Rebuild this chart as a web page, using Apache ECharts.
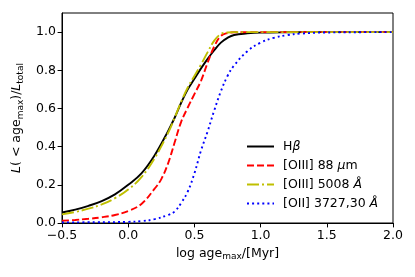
<!DOCTYPE html>
<html>
<head>
<meta charset="utf-8">
<script src="https://cdn.jsdelivr.net/npm/echarts@6/dist/echarts.min.js"></script>
<style>html,body{margin:0;padding:0;background:#fff}#c{width:415px;height:277px}</style>
</head>
<body>
<div id="c"></div>
<script>
const seriesNames = ['Hβ', '[OIII] 88 μm', '[OIII] 5008 Å', '[OII] 3727,30 Å'];
const hbeta = [[-0.5,0.055],[-0.4,0.07],[-0.3,0.09],[-0.2,0.115],[-0.1,0.15],[0.0,0.2],[0.1,0.26],[0.2,0.355],[0.3,0.48],[0.35,0.55],[0.4,0.63],[0.45,0.70],[0.5,0.755],[0.55,0.81],[0.6,0.86],[0.65,0.905],[0.7,0.945],[0.75,0.97],[0.8,0.985],[0.9,0.993],[1.0,0.997],[1.2,0.999],[1.5,1.0],[2.0,1.0]];
const oiii88 = [[-0.5,0.012],[-0.4,0.016],[-0.3,0.022],[-0.2,0.03],[-0.1,0.042],[0.0,0.063],[0.1,0.1],[0.2,0.18],[0.25,0.23],[0.3,0.31],[0.35,0.42],[0.4,0.53],[0.45,0.605],[0.5,0.675],[0.55,0.745],[0.6,0.84],[0.65,0.925],[0.7,0.98],[0.75,0.995],[0.8,0.999],[1.0,1.0],[2.0,1.0]];
const oiii5008 = [[-0.5,0.045],[-0.4,0.058],[-0.3,0.075],[-0.2,0.097],[-0.1,0.13],[0.0,0.175],[0.1,0.24],[0.2,0.34],[0.3,0.47],[0.35,0.55],[0.4,0.635],[0.45,0.71],[0.5,0.77],[0.55,0.83],[0.6,0.895],[0.65,0.955],[0.7,0.99],[0.75,0.998],[0.8,1.0],[2.0,1.0]];
const oii3727 = [[-0.5,0.003],[-0.25,0.004],[0.0,0.006],[0.1,0.01],[0.2,0.02],[0.3,0.042],[0.35,0.06],[0.4,0.105],[0.45,0.165],[0.5,0.26],[0.55,0.38],[0.6,0.48],[0.65,0.59],[0.7,0.69],[0.75,0.77],[0.8,0.825],[0.9,0.9],[1.0,0.945],[1.1,0.97],[1.2,0.984],[1.3,0.992],[1.5,0.998],[2.0,1.0]];
const xTicks = [-0.5, 0.0, 0.5, 1.0, 1.5, 2.0];
const yTicks = [0.0, 0.2, 0.4, 0.6, 0.8, 1.0];

const FONT = 'DejaVu Sans';
const FS = 12.5;
const fmt = v => (v < 0 ? '\u2212' : '') + Math.abs(v).toFixed(1);
const legendRich = {
  'Hβ': '{n|H}{i|β}',
  '[OIII] 88 μm': '{n|[OIII] 88 }{i|μ}{n|m}',
  '[OIII] 5008 Å': '{n|[OIII] 5008 }{i|Å}',
  '[OII] 3727,30 Å': '{n|[OII] 3727,30 }{i|Å}'
};
const chart = echarts.init(document.getElementById('c'), null, {renderer: 'canvas'});
const mk = (name, data, color, type) => ({
  name, type: 'line', data, showSymbol: false, symbol: 'none',
  smooth: 0.4,
  lineStyle: {color, width: 1.9, type, cap: 'butt'},
  itemStyle: {color}
});
chart.setOption({
  animation: false,
  backgroundColor: '#fff',
  textStyle: {fontFamily: FONT},
  grid: {left: 62, right: 22, top: 13, bottom: 54, show: true, borderColor: '#000', borderWidth: 1, backgroundColor: 'transparent'},
  xAxis: {
    type: 'value', min: -0.5, max: 2.0, interval: 0.5,
    axisLine: {show: true, onZero: false, lineStyle: {color: '#000', width: 1}},
    axisTick: {show: true, inside: false, length: 4.4, lineStyle: {color: '#000', width: 1}, customValues: xTicks},
    axisLabel: {color: '#000', fontSize: FS, fontFamily: FONT, margin: 6, formatter: fmt, customValues: xTicks},
    splitLine: {show: false},
    name: '{n|log age}{s|max}{n|/[Myr]}', nameLocation: 'middle', nameGap: 22,
    nameTextStyle: {rich: {n: {fontSize: FS, fontFamily: FONT, color: '#000', lineHeight: 16}, s: {fontSize: 9, fontFamily: FONT, color: '#000', lineHeight: 10, verticalAlign: 'bottom'}}}
  },
  yAxis: {
    type: 'value', min: 0, max: 1.1, interval: 0.2,
    axisLine: {show: true, onZero: false, lineStyle: {color: '#000', width: 1}},
    axisTick: {show: true, inside: false, length: 4.4, lineStyle: {color: '#000', width: 1}, customValues: yTicks},
    axisLabel: {color: '#000', fontSize: FS, fontFamily: FONT, margin: 6, formatter: fmt, customValues: yTicks},
    splitLine: {show: false},
    name: '{i|L}{n|( < age}{s|max}{n|)/}{i|L}{s|total}', nameLocation: 'middle', nameGap: 34, nameRotate: 90,
    nameTextStyle: {rich: {
      n: {fontSize: FS, fontFamily: FONT, color: '#000', lineHeight: 16},
      i: {fontSize: FS, fontFamily: FONT, fontStyle: 'italic', color: '#000', lineHeight: 16},
      s: {fontSize: 9, fontFamily: FONT, color: '#000', lineHeight: 10, verticalAlign: 'bottom'}
    }}
  },
  legend: {
    orient: 'vertical', left: 241, top: 135, itemWidth: 27, itemHeight: 14, itemGap: 6,
    data: seriesNames,
    itemStyle: {opacity: 0},
    formatter: name => legendRich[name],
    textStyle: {padding: [0, 0, 0, 4], rich: {
      n: {fontSize: FS, fontFamily: FONT, color: '#000'},
      i: {fontSize: FS, fontFamily: FONT, fontStyle: 'italic', color: '#000'}
    }}
  },
  series: [
    mk(seriesNames[0], hbeta, '#000000', 'solid'),
    mk(seriesNames[1], oiii88, '#ff0000', [7, 3]),
    mk(seriesNames[2], oiii5008, '#bfbf00', [12, 3, 2, 3]),
    mk(seriesNames[3], oii3727, '#0000ff', [2, 3.1])
  ]
});
</script>
</body>
</html>
